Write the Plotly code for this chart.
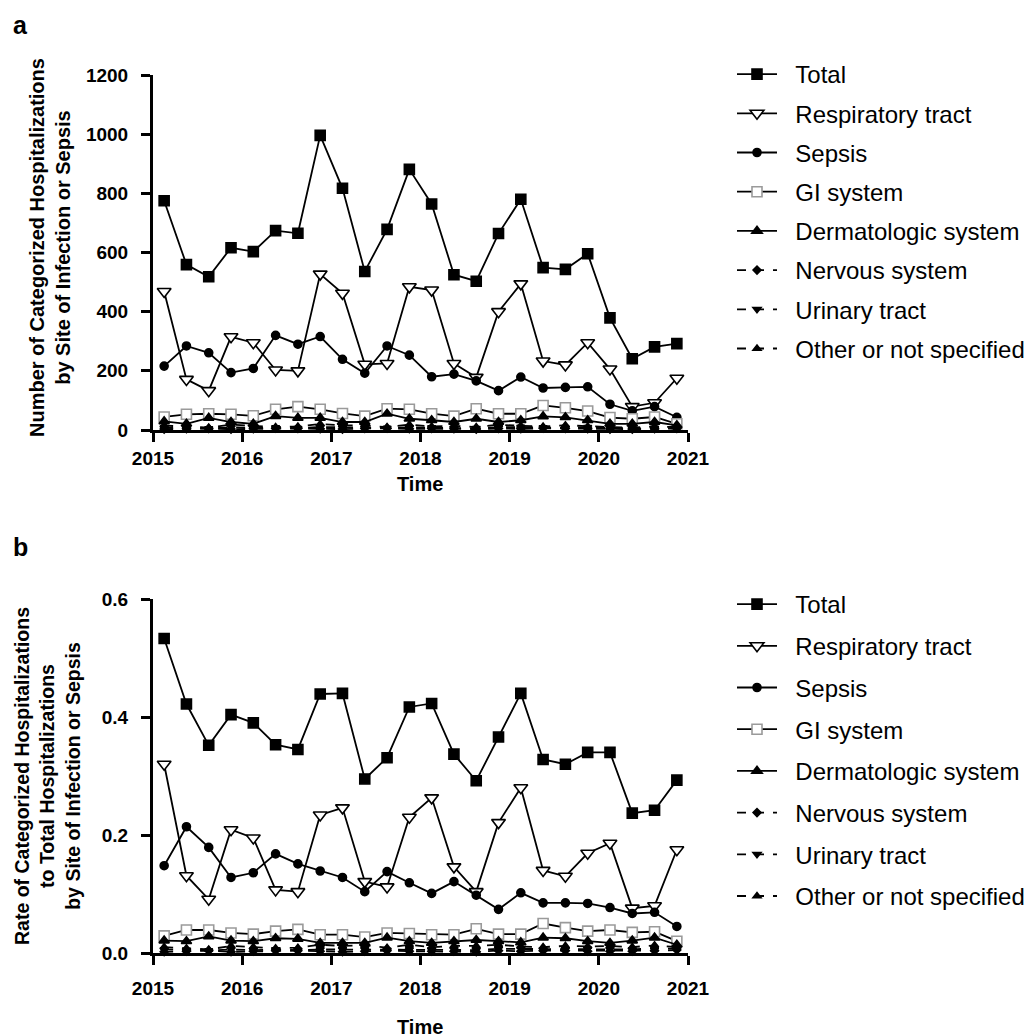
import plotly.graph_objects as go

# ---------------- data ----------------
quarters = [2015 + (q + 0.5) / 4 for q in range(24)]  # mid-quarter time points 2015Q1..2020Q4
years = [2015, 2016, 2017, 2018, 2019, 2020, 2021]
series_names = ["Total", "Respiratory tract", "Sepsis", "GI system",
                "Dermatologic system", "Nervous system", "Urinary tract",
                "Other or not specified"]

# panel a: number of categorized hospitalizations
a_total = [775, 559, 518, 616, 603, 674, 665, 996, 817, 536, 678, 881,
           764, 525, 503, 664, 780, 549, 543, 596, 379, 241, 281, 292]
a_resp = [468, 171, 133, 315, 295, 203, 200, 527, 462, 222, 225, 484,
          473, 225, 178, 400, 494, 233, 220, 295, 206, 79, 92, 175]
a_sepsis = [216, 284, 261, 194, 208, 320, 290, 316, 239, 192, 284, 253,
            180, 189, 166, 133, 179, 142, 144, 146, 87, 65, 79, 43]
a_gi = [44, 53, 55, 53, 48, 70, 79, 70, 56, 47, 72, 70,
        55, 47, 72, 55, 55, 83, 75, 64, 42, 38, 44, 21]
a_derm = [29, 21, 41, 27, 21, 47, 41, 41, 27, 27, 55, 38,
          33, 27, 38, 27, 33, 46, 43, 33, 21, 21, 27, 16]
a_nerv = [3, 4, 5, 3, 4, 6, 5, 4, 3, 5, 6, 4,
          5, 4, 3, 5, 4, 6, 5, 4, 3, 3, 4, 5]
a_urin = [8, 6, 5, 9, 7, 8, 6, 10, 9, 8, 7, 9,
          8, 7, 6, 9, 10, 8, 7, 9, 6, 5, 7, 6]
a_other = [15, 12, 8, 18, 14, 10, 12, 20, 16, 15, 10, 18,
           12, 14, 10, 18, 14, 12, 16, 12, 10, 8, 12, 10]

# panel b: rate to total hospitalizations
b_total = [0.533, 0.422, 0.352, 0.404, 0.390, 0.353, 0.345, 0.439, 0.440, 0.295, 0.331, 0.417,
           0.423, 0.337, 0.292, 0.366, 0.440, 0.328, 0.320, 0.340, 0.340, 0.237, 0.242, 0.293]
b_resp = [0.320, 0.131, 0.091, 0.209, 0.195, 0.107, 0.104, 0.234, 0.246, 0.121, 0.112, 0.230,
          0.263, 0.146, 0.104, 0.221, 0.280, 0.140, 0.130, 0.169, 0.186, 0.076, 0.080, 0.175]
b_sepsis = [0.148, 0.214, 0.179, 0.128, 0.136, 0.168, 0.151, 0.139, 0.128, 0.104, 0.138, 0.119,
            0.101, 0.121, 0.098, 0.074, 0.102, 0.085, 0.085, 0.084, 0.077, 0.067, 0.069, 0.045]
b_gi = [0.029, 0.039, 0.039, 0.034, 0.032, 0.037, 0.040, 0.031, 0.031, 0.027, 0.034, 0.033,
        0.031, 0.031, 0.041, 0.032, 0.032, 0.050, 0.043, 0.037, 0.039, 0.035, 0.036, 0.020]
b_derm = [0.021, 0.020, 0.028, 0.021, 0.020, 0.025, 0.024, 0.017, 0.017, 0.017, 0.026, 0.020,
          0.017, 0.020, 0.022, 0.020, 0.018, 0.026, 0.025, 0.020, 0.017, 0.021, 0.026, 0.014]
b_nerv = [0.002, 0.003, 0.004, 0.002, 0.003, 0.004, 0.004, 0.003, 0.002, 0.003, 0.004, 0.003,
          0.003, 0.003, 0.002, 0.004, 0.003, 0.004, 0.004, 0.003, 0.003, 0.003, 0.004, 0.005]
b_urin = [0.006, 0.005, 0.004, 0.006, 0.005, 0.006, 0.005, 0.006, 0.006, 0.006, 0.005, 0.006,
          0.006, 0.006, 0.005, 0.007, 0.007, 0.006, 0.006, 0.007, 0.006, 0.006, 0.008, 0.007]
b_other = [0.010, 0.008, 0.006, 0.012, 0.010, 0.008, 0.009, 0.014, 0.012, 0.013, 0.009, 0.014,
           0.010, 0.012, 0.012, 0.014, 0.011, 0.010, 0.012, 0.011, 0.012, 0.010, 0.013, 0.010]

# ---------------- styles ----------------
FONT = "Liberation Sans, Arial, sans-serif"
styles = [
    dict(symbol="square", size=10, color="black", lcolor="black", dash="solid"),
    dict(symbol="triangle-down", size=12, color="white", lcolor="black", dash="solid"),
    dict(symbol="circle", size=8, color="black", lcolor="black", dash="solid"),
    dict(symbol="square", size=10, color="white", lcolor="#9a9a9a", dash="solid"),
    dict(symbol="triangle-up", size=9, color="black", lcolor="black", dash="solid"),
    dict(symbol="diamond", size=6, color="black", lcolor="black", dash="dash"),
    dict(symbol="triangle-down", size=7, color="black", lcolor="black", dash="dash"),
    dict(symbol="triangle-up", size=7, color="black", lcolor="black", dash="dash"),
]

fig = go.Figure()
panel_a = [a_total, a_resp, a_sepsis, a_gi, a_derm, a_nerv, a_urin, a_other]
panel_b = [b_total, b_resp, b_sepsis, b_gi, b_derm, b_nerv, b_urin, b_other]

NB = "\u00a0\u00a0"  # small gap between legend symbol and label
for panel, data, xa, ya, leg in [("a", panel_a, "x", "y", "legend"),
                                  ("b", panel_b, "x2", "y2", "legend2")]:
    for name, vals, st in zip(series_names, data, styles):
        fig.add_trace(go.Scatter(
            x=quarters, y=vals, name=NB + name, mode="lines+markers",
            xaxis=xa, yaxis=ya, legend=leg, legendgroup=panel + name,
            cliponaxis=False, hoverinfo="skip",
            line=dict(color="black", width=1.8, dash=st["dash"]),
            marker=dict(symbol=st["symbol"], size=st["size"], color=st["color"],
                        line=dict(color=st["lcolor"], width=1.6)),
        ))

# page is shown with an 8px body margin, so layout positions are shifted by 8px
OFF = 8
W, H = 1032, 1036
def px(x):
    return (x - OFF) / W
def py(y):
    return 1 - (y - OFF) / H

axis_common = dict(showline=True, linecolor="black", linewidth=3, ticks="outside",
                   tickwidth=3, ticklen=9, tickcolor="black", showgrid=False,
                   zeroline=False, automargin=False,
                   tickfont=dict(family=FONT, size=19, color="black", weight="bold"))

xdom = [px(153), px(688)]
fig.update_layout(
    width=W, height=H, margin=dict(l=0, r=0, t=0, b=0, autoexpand=False),
    paper_bgcolor="white", plot_bgcolor="white", showlegend=True,
    xaxis=dict(domain=xdom, range=[2015, 2021], tickvals=years, anchor="y", **axis_common),
    yaxis=dict(domain=[py(430), py(75)], range=[0, 1200], dtick=200, anchor="x",
               ticklabelstandoff=9, **axis_common),
    xaxis2=dict(domain=xdom, range=[2015, 2021], tickvals=years, anchor="y2",
                ticklabelstandoff=7, **axis_common),
    yaxis2=dict(domain=[py(953), py(599)], range=[0, 0.6], dtick=0.2, tickformat=".1f",
                anchor="x2", ticklabelstandoff=9, **axis_common),
    legend=dict(x=px(732), y=py(52), xanchor="left", yanchor="top",
                font=dict(family=FONT, size=24, color="black"),
                traceorder="grouped", tracegroupgap=5, itemwidth=40,
                bgcolor="rgba(0,0,0,0)"),
    legend2=dict(x=px(732), y=py(582), xanchor="left", yanchor="top",
                 font=dict(family=FONT, size=24, color="black"),
                 traceorder="grouped", tracegroupgap=7.5, itemwidth=40,
                 bgcolor="rgba(0,0,0,0)"),
)

ann_font = dict(family=FONT, size=20, color="black", weight="bold")
ann_font_b = dict(family=FONT, size=19.5, color="black", weight="bold")
annotations = [
    dict(text="<b>a</b>", x=px(20), y=py(25), font=dict(family=FONT, size=25, color="black")),
    dict(text="<b>b</b>", x=px(20), y=py(547), font=dict(family=FONT, size=25, color="black")),
    dict(text="<b>Number of Categorized Hospitalizations<br>by Site of Infection or Sepsis</b>",
         x=px(50), y=py(248), textangle=-90, font=ann_font),
    dict(text="<b>Rate of Categorized Hospitalizations<br>to Total Hospitalizations<br>by Site of Infection or Sepsis</b>",
         x=px(47), y=py(776), textangle=-90, font=ann_font_b),
    dict(text="<b>Time</b>", x=px(420), y=py(484), font=ann_font),
    dict(text="<b>Time</b>", x=px(420), y=py(1027), font=ann_font),
]
for a in annotations:
    fig.add_annotation(xref="paper", yref="paper", showarrow=False,
                       xanchor="center", yanchor="middle", borderpad=0, **a)

fig.write_html("out.html")
